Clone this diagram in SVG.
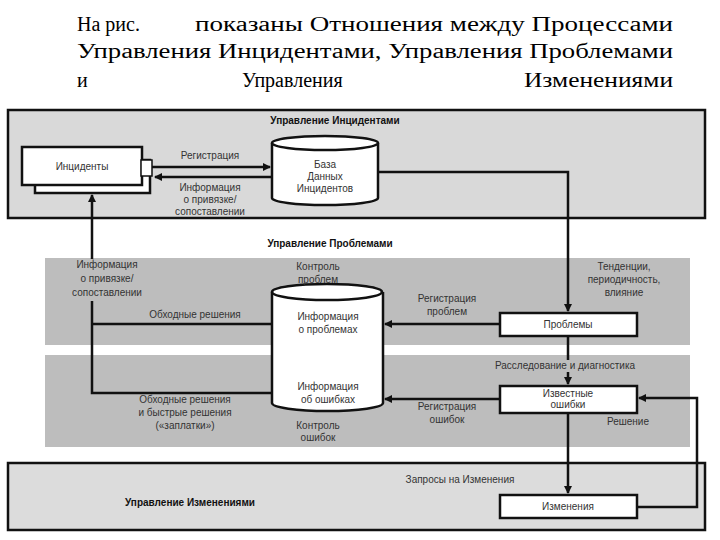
<svg xmlns="http://www.w3.org/2000/svg" width="720" height="540" viewBox="0 0 720 540">
<style>
.t{font-family:"Liberation Serif",serif;font-size:20px;fill:#000}
.s{font-family:"Liberation Sans",Arial,sans-serif;font-size:10px;fill:#333;text-anchor:middle}
.h{font-family:"Liberation Sans",Arial,sans-serif;font-size:10px;font-weight:bold;fill:#111;text-anchor:middle}
.box{fill:#fff;stroke:#111;stroke-width:2.5}
.ln{fill:none;stroke:#111;stroke-width:2.5}
</style>
<defs><marker id="a" markerWidth="8" markerHeight="8" refX="7" refY="4" orient="auto" markerUnits="userSpaceOnUse"><path d="M0,0L8,4L0,8z" fill="#111"/></marker></defs>
<text class="t" x="77" y="31">На рис.</text><text class="t" x="195" y="31" textLength="478" lengthAdjust="spacingAndGlyphs">показаны Отношения между Процессами</text>
<text class="t" x="77" y="58" textLength="596" lengthAdjust="spacingAndGlyphs">Управления Инцидентами, Управления Проблемами</text>
<text class="t" x="77" y="87">и</text><text class="t" x="242" y="87">Управления</text><text class="t" x="524" y="87" textLength="149" lengthAdjust="spacingAndGlyphs">Изменениями</text>
<g id="bands">
<rect x="8" y="110" width="697" height="108" fill="#d9d9d9" stroke="#111" stroke-width="2.5"/>
<rect x="45" y="258" width="645" height="87" fill="#bdbdbd"/>
<rect x="45" y="355" width="645" height="92" fill="#bdbdbd"/>
<rect x="8" y="463" width="697" height="67" fill="#dcdcdc" stroke="#111" stroke-width="2.5"/>
<text class="h" x="335" y="124">Управление Инцидентами</text>
<text class="h" x="330" y="247">Управление Проблемами</text>
<text class="h" x="190" y="506">Управление Изменениями</text>
</g>
<g id="connectors">
<path class="ln" d="M152,167H270" marker-end="url(#a)"/>
<path class="ln" d="M272,177H155" marker-end="url(#a)"/>
<path class="ln" d="M378,172H568V311" marker-end="url(#a)"/>
<path class="ln" d="M500,324H385" marker-end="url(#a)"/>
<path class="ln" d="M500,399H385" marker-end="url(#a)"/>
<path class="ln" d="M568,336V384" marker-end="url(#a)"/>
<path class="ln" d="M568,413V493" marker-end="url(#a)"/>
<path class="ln" d="M637,507H697V398H639" marker-end="url(#a)"/>
<path class="ln" d="M272,324H92M272,393H92V195" marker-end="url(#a)"/>
<path class="ln" d="M323,342V366" marker-end="url(#a)"/>
</g>
<g id="incidents">
<rect class="box" x="35" y="160" width="115" height="33"/>
<rect class="box" x="22" y="147" width="120" height="38"/>
<rect x="141" y="160" width="11" height="16" fill="#fff" stroke="#111" stroke-width="1.5"/>
<text class="s" x="82" y="170">Инциденты</text>
</g>
<g id="incdb">
<path d="M272,143V198A53,7 0 0 0 378,198V143" fill="#fff" stroke="#111" stroke-width="2.5"/>
<ellipse cx="325" cy="143" rx="53" ry="7" fill="#fff" stroke="#111" stroke-width="2.5"/>
<text class="s" x="325" y="168">База</text><text class="s" x="325" y="180">Данных</text><text class="s" x="325" y="192">Инцидентов</text>
</g>
<g id="probdb">
<path d="M272,292V403A55,8 0 0 0 383,403V292" fill="#fff" stroke="#111" stroke-width="2.5"/>
<ellipse cx="327" cy="292" rx="55" ry="8" fill="#fff" stroke="#111" stroke-width="2.5"/>
<text class="s" x="328" y="320">Информация</text><text class="s" x="328" y="333">о проблемах</text>
<text class="s" x="328" y="390">Информация</text><text class="s" x="328" y="403">об ошибках</text>
</g>
<g id="problems"><rect class="box" x="500" y="313" width="137" height="23"/><text class="s" x="568" y="328">Проблемы</text></g>
<g id="knownerrors"><rect class="box" x="500" y="386" width="137" height="27"/><text class="s" x="568" y="397">Известные</text><text class="s" x="568" y="408">ошибки</text></g>
<g id="changes"><rect class="box" x="500" y="495" width="137" height="23"/><text class="s" x="568" y="510">Изменения</text></g>
<g id="labels">
<rect x="58" y="259" width="98" height="42" fill="#bdbdbd"/>
<rect x="494" y="360" width="142" height="12" fill="#bdbdbd"/>
<text class="s" x="210" y="159">Регистрация</text>
<text class="s" x="210" y="191">Информация</text><text class="s" x="210" y="203">о привязке/</text><text class="s" x="210" y="215">сопоставлении</text>
<text class="s" x="107" y="268">Информация</text><text class="s" x="107" y="282">о привязке/</text><text class="s" x="107" y="296">сопоставлении</text>
<text class="s" x="195" y="318">Обходные решения</text>
<text class="s" x="318" y="270">Контроль</text><text class="s" x="318" y="283">проблем</text>
<text class="s" x="447" y="302">Регистрация</text><text class="s" x="447" y="315">проблем</text>
<text class="s" x="624" y="270">Тенденции,</text><text class="s" x="624" y="283">периодичность,</text><text class="s" x="624" y="296">влияние</text>
<text class="s" x="565" y="369">Расследование и диагностика</text>
<text class="s" x="447" y="410">Регистрация</text><text class="s" x="447" y="423">ошибок</text>
<text class="s" x="628" y="425">Решение</text>
<text class="s" x="185" y="403">Обходные решения</text><text class="s" x="185" y="416">и быстрые решения</text><text class="s" x="185" y="429">(«заплатки»)</text>
<text class="s" x="318" y="429">Контроль</text><text class="s" x="318" y="441">ошибок</text>
<text class="s" x="460" y="483">Запросы на Изменения</text>
</g>
</svg>
